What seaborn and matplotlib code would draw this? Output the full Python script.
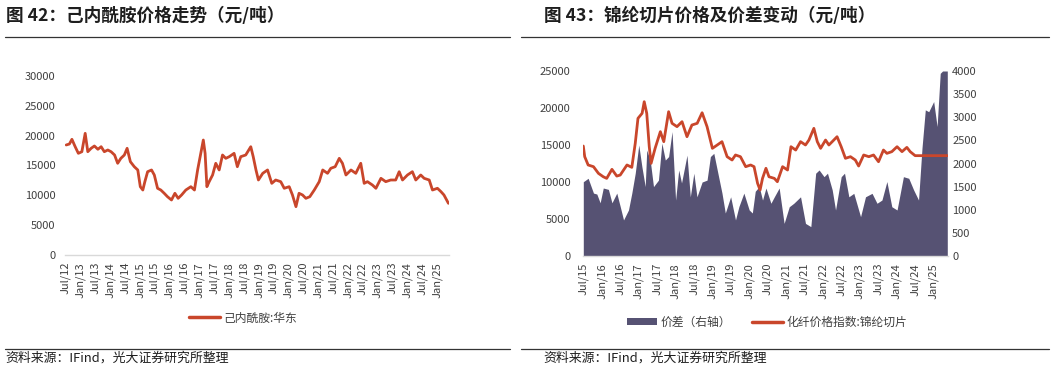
import numpy as np
import pandas as pd
import matplotlib
matplotlib.use('Agg')
import matplotlib.pyplot as plt
import matplotlib.dates as mdates
from matplotlib.lines import Line2D
from matplotlib.patches import Patch
import seaborn as sns

sns.set_theme(style='white')
plt.rcParams['font.family'] = ['Noto Sans CJK SC', 'DejaVu Sans']
plt.rcParams['axes.unicode_minus'] = False

RED = '#c9462b'
SLATE = '#565273'
TXT = '#404040'
AXIS = '#d9d9d9'

# 图42 己内酰胺:华东 (元/吨)
cpl_dates = [
    '2012-07-10', '2012-08-18', '2012-09-18', '2012-10-28', '2012-12-06', '2013-01-18',
    '2013-02-28', '2013-04-01', '2013-05-12', '2013-06-21', '2013-08-03', '2013-09-12',
    '2013-10-21', '2013-12-03', '2014-01-12', '2014-02-24', '2014-04-03', '2014-05-12',
    '2014-06-24', '2014-07-28', '2014-09-06', '2014-10-24', '2014-12-06', '2015-01-06',
    '2015-02-06', '2015-03-03', '2015-04-06', '2015-05-24', '2015-06-27', '2015-08-06',
    '2015-09-15', '2015-10-27', '2015-12-06', '2016-01-24', '2016-03-06', '2016-04-15',
    '2016-05-27', '2016-07-18', '2016-09-18', '2016-11-01', '2016-12-10', '2017-01-18',
    '2017-02-18', '2017-03-12', '2017-04-03', '2017-05-01', '2017-06-12', '2017-07-21',
    '2017-09-01', '2017-10-12', '2017-11-21', '2018-01-03', '2018-03-03', '2018-04-12',
    '2018-05-24', '2018-07-24', '2018-09-24', '2018-10-24', '2018-11-27', '2018-12-27',
    '2019-02-18', '2019-04-18', '2019-06-09', '2019-07-27', '2019-09-27', '2019-11-09',
    '2020-01-09', '2020-02-18', '2020-04-01', '2020-05-09', '2020-06-21', '2020-08-01',
    '2020-09-18', '2020-11-12', '2021-01-12', '2021-02-24', '2021-04-24', '2021-06-03',
    '2021-07-27', '2021-09-15', '2021-10-24', '2021-12-06', '2022-02-06', '2022-04-06',
    '2022-06-06', '2022-07-18', '2022-08-27', '2022-10-27', '2022-12-09', '2023-02-09',
    '2023-04-09', '2023-06-09', '2023-08-09', '2023-09-21', '2023-11-01', '2024-01-01',
    '2024-03-01', '2024-04-12', '2024-06-12', '2024-07-24', '2024-09-24', '2024-11-03',
    '2025-01-03', '2025-02-15', '2025-03-24', '2025-05-18',
]
cpl_price = [
    18440, 18600, 19390, 18150, 17040, 17310,
    20390, 17310, 17880, 18270, 17720, 18150,
    17310, 17600, 17310, 16760, 15370, 16200,
    16760, 17880, 15640, 14800, 14250, 11450,
    10890, 12290, 13960, 14250, 13410, 11180,
    10890, 10340, 9770, 9220, 10340, 9500,
    10060, 10890, 11450, 10890, 14250, 17040,
    19270, 17040, 11450, 12290, 13410, 15370,
    14250, 16760, 16200, 16480, 17040, 14800,
    16480, 16760, 18150, 16480, 14250, 12570,
    13690, 14250, 12010, 12570, 12290, 11180,
    11450, 10060, 8100, 10340, 10060, 9500,
    9770, 10890, 12290, 14250, 13690, 14530,
    14800, 16200, 15370, 13410, 14250, 13690,
    15370, 12010, 12290, 11730, 11180, 12850,
    12290, 12570, 12570, 13960, 12570, 13410,
    13960, 12570, 13410, 12850, 12570, 10890,
    11180, 10620, 10060, 8660,
]

# 图43 化纤价格指数:锦纶切片 (左轴)
pa6_dates = [
    '2015-07-01', '2015-07-15', '2015-08-18', '2015-10-10', '2015-11-28', '2016-01-15',
    '2016-02-18', '2016-04-10', '2016-05-28', '2016-07-01', '2016-09-06', '2016-10-24',
    '2016-11-27', '2016-12-24', '2017-02-03', '2017-02-24', '2017-03-21', '2017-04-15',
    '2017-05-03', '2017-06-12', '2017-08-03', '2017-09-06', '2017-10-24', '2017-11-27',
    '2018-01-15', '2018-03-06', '2018-04-24', '2018-06-12', '2018-08-03', '2018-09-21',
    '2018-11-09', '2019-01-01', '2019-02-18', '2019-04-06', '2019-05-27', '2019-07-15',
    '2019-08-18', '2019-10-06', '2019-11-27', '2020-01-15', '2020-02-18', '2020-03-24',
    '2020-04-18', '2020-05-12', '2020-06-15', '2020-07-15', '2020-09-06', '2020-10-06',
    '2020-11-27', '2021-01-15', '2021-02-18', '2021-04-06', '2021-05-24', '2021-07-12',
    '2021-08-15', '2021-10-03', '2021-11-06', '2021-12-09', '2022-01-27', '2022-03-01',
    '2022-04-03', '2022-05-21', '2022-07-01', '2022-08-12', '2022-10-01', '2022-11-18',
    '2022-12-21', '2023-02-09', '2023-04-01', '2023-05-18', '2023-07-06', '2023-08-24',
    '2023-09-27', '2023-11-15', '2024-01-06', '2024-02-24', '2024-04-12', '2024-05-15',
    '2024-07-03', '2025-05-18',
]
pa6_price = [
    14860, 13420, 12300, 12070, 11170, 10710,
    10490, 11710, 10800, 10940, 12300, 11980,
    15220, 18600, 19280, 20850, 19280, 14770,
    12520, 14550, 16800, 15450, 19500, 17930,
    17480, 18150, 16120, 17700, 17930, 19360,
    17480, 14550, 15000, 15450, 13420, 12970,
    13650, 13420, 12070, 12300, 12070, 9820,
    8920, 10490, 11850, 10710, 10490, 10040,
    12070, 11620, 14770, 14320, 15450, 15000,
    15670, 17250, 15450, 14550, 15670, 15000,
    15450, 16120, 14770, 13200, 13420, 12970,
    12160, 13650, 13420, 13650, 12740, 14320,
    13870, 14100, 14770, 14100, 14680, 14100,
    13560, 13560,
]

# 图43 价差 (右轴)
spread_dates = [
    '2015-07-01', '2015-08-18', '2015-10-10', '2015-11-12', '2015-12-15', '2016-01-15',
    '2016-03-06', '2016-04-10', '2016-05-28', '2016-07-01', '2016-08-03', '2016-09-21',
    '2016-10-24', '2016-11-27', '2017-01-01', '2017-02-01', '2017-03-06', '2017-03-21',
    '2017-04-24', '2017-05-27', '2017-07-15', '2017-08-18', '2017-09-21', '2017-10-24',
    '2017-11-27', '2018-01-01', '2018-02-01', '2018-03-01', '2018-04-24', '2018-05-27',
    '2018-07-01', '2018-08-01', '2018-09-21', '2018-11-09', '2018-12-12', '2019-01-15',
    '2019-03-03', '2019-04-06', '2019-05-09', '2019-07-01', '2019-08-18', '2019-09-21',
    '2019-11-09', '2020-01-01', '2020-02-01', '2020-03-01', '2020-04-09', '2020-05-12',
    '2020-06-15', '2020-08-03', '2020-09-06', '2020-10-24', '2020-12-12', '2021-02-01',
    '2021-03-18', '2021-05-24', '2021-07-12', '2021-09-03', '2021-10-21', '2021-11-24',
    '2022-01-12', '2022-02-15', '2022-04-03', '2022-05-06', '2022-07-01', '2022-08-03',
    '2022-09-15', '2022-11-03', '2023-01-09', '2023-02-27', '2023-05-03', '2023-06-21',
    '2023-08-09', '2023-09-27', '2023-11-15', '2024-01-06', '2024-03-09', '2024-05-01',
    '2024-06-18', '2024-08-06', '2024-09-09', '2024-10-12', '2024-11-15', '2025-01-03',
    '2025-02-06', '2025-03-09', '2025-04-01', '2025-05-18',
]
spread_vals = [
    1606, 1680, 1360, 1340, 1150, 1470,
    1440, 1150, 1360, 1070, 780, 995,
    1360, 1790, 2400, 1930, 1500, 2290,
    2075, 1500, 1640, 2440, 2075, 2150,
    2690, 1210, 1860, 1580, 2180, 1280,
    1790, 1280, 1600, 1640, 2150, 2220,
    1720, 1360, 930, 1280, 780, 1070,
    1360, 995, 930, 1400, 1500, 1210,
    1470, 1140, 1280, 1470, 705, 1065,
    1140, 1280, 705, 635, 1790, 1860,
    1715, 1790, 1430, 995, 1715, 1790,
    1280, 1355, 850, 1280, 1355, 1140,
    1210, 1610, 1065, 995, 1715, 1680,
    1430, 1210, 2330, 3160, 3120, 3340,
    2800, 3950, 4000, 4000,
]

df_cpl = pd.DataFrame({'date': pd.to_datetime(cpl_dates), 'price': cpl_price})
df_pa6 = pd.DataFrame({'date': pd.to_datetime(pa6_dates), 'price': pa6_price})
df_spr = pd.DataFrame({'date': pd.to_datetime(spread_dates), 'spread': spread_vals})

fig = plt.figure(figsize=(10.54, 3.70), dpi=100)
W, H = 1054, 370


def box(x0, y0, x1, y1):
    return [x0 / W, 1 - y1 / H, (x1 - x0) / W, (y1 - y0) / H]


def style_date_axis(ax):
    ax.xaxis.set_major_locator(mdates.MonthLocator(bymonth=[1, 7]))
    ax.xaxis.set_major_formatter(mdates.DateFormatter('%b/%y'))
    ax.tick_params(axis='x', which='major', direction='out', length=3, width=0.8,
                   color='#bfbfbf', labelsize=8, labelcolor=TXT, rotation=90, pad=2)
    for s in ['top', 'left', 'right']:
        ax.spines[s].set_visible(False)
    ax.spines['bottom'].set_color(AXIS)
    ax.spines['bottom'].set_linewidth(1.0)
    ax.set_xlabel('')
    ax.set_ylabel('')
    ax.grid(False)


# ---- left panel ----
ax1 = fig.add_axes(box(65, 76, 449, 255))
sns.lineplot(data=df_cpl, x='date', y='price', ax=ax1, color=RED, linewidth=2.0)
ax1.set_xlim(pd.Timestamp('2012-06-25'), pd.Timestamp('2025-05-25'))
ax1.set_ylim(0, 30000)
ax1.set_yticks(np.arange(0, 30001, 5000))
ax1.tick_params(axis='y', length=0, labelsize=8, labelcolor=TXT, pad=7)
style_date_axis(ax1)

# ---- right panel ----
ax2 = fig.add_axes(box(583, 71, 948, 256))
ax3 = ax2.twinx()
ax3.fill_between(df_spr['date'], 0, df_spr['spread'], color=SLATE, linewidth=0, zorder=1)
ax3.set_ylim(0, 4000)
ax3.set_yticks(np.arange(0, 4001, 500))
ax3.tick_params(axis='y', length=0, labelsize=8, labelcolor=TXT, pad=3)
for s in ax3.spines.values():
    s.set_visible(False)
ax3.grid(False)
ax2.set_zorder(ax3.get_zorder() + 1)
ax2.patch.set_visible(False)
sns.lineplot(data=df_pa6, x='date', y='price', ax=ax2, color=RED, linewidth=2.0)
ax2.set_xlim(pd.Timestamp('2015-06-28'), pd.Timestamp('2025-05-25'))
ax2.set_ylim(0, 25000)
ax2.set_yticks(np.arange(0, 25001, 5000))
ax2.tick_params(axis='y', length=0, labelsize=8, labelcolor=TXT, pad=9)
style_date_axis(ax2)

# ---- titles, rules, legends, source ----
fig.text(6 / W, 1 - 16 / H, '图 42：己内酰胺价格走势（元/吨）', fontsize=12.7,
         fontweight='bold', color='#1e1e1e', va='center', ha='left')
fig.text(544 / W, 1 - 16 / H, '图 43：锦纶切片价格及价差变动（元/吨）', fontsize=12.7,
         fontweight='bold', color='#1e1e1e', va='center', ha='left')
for x0, x1 in [(5, 510), (521, 1049)]:
    for y in (37, 349):
        fig.add_artist(Line2D([x0 / W, x1 / W], [1 - y / H, 1 - y / H],
                              transform=fig.transFigure, color='#333333', linewidth=0.9))
fig.text(5 / W, 1 - 358 / H, '资料来源：IFind，光大证券研究所整理', fontsize=9.3,
         color='#1e1e1e', va='center', ha='left')
fig.text(543 / W, 1 - 358 / H, '资料来源：IFind，光大证券研究所整理', fontsize=9.3,
         color='#1e1e1e', va='center', ha='left')

leg1 = fig.legend(handles=[Line2D([0], [0], color=RED, linewidth=2.5)],
                  labels=['己内酰胺:华东'], loc='center', bbox_to_anchor=(243 / W, 1 - 318 / H),
                  frameon=False, fontsize=8.5, handlelength=2.6, handletextpad=0.3)
for t in leg1.get_texts():
    t.set_color(TXT)
leg2 = fig.legend(handles=[Patch(facecolor=SLATE, edgecolor='none'),
                           Line2D([0], [0], color=RED, linewidth=2.5)],
                  labels=['价差（右轴）', '化纤价格指数:锦纶切片'], loc='center',
                  bbox_to_anchor=(767 / W, 1 - 322 / H), ncol=2, frameon=False,
                  fontsize=8.5, handlelength=2.6, handleheight=0.5, handletextpad=0.3,
                  columnspacing=1.8)
for t in leg2.get_texts():
    t.set_color(TXT)

plt.savefig('out.png', dpi=100)
plt.close()
